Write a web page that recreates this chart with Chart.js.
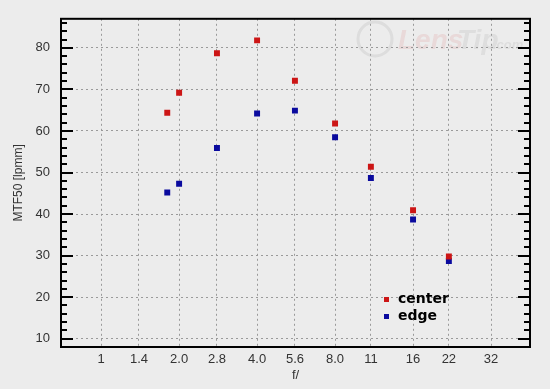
<!DOCTYPE html>
<html>
<head>
<meta charset="utf-8">
<script src="https://cdn.jsdelivr.net/npm/chart.js@4/dist/chart.umd.min.js"></script>
<style>
  html, body { margin: 0; padding: 0; background: #ececec; }
  #wrap { width: 550px; height: 389px; }
</style>
</head>
<body>
<div id="wrap"><canvas id="mtfChart" width="550" height="389"></canvas></div>
<script>
// f-numbers on the x axis
const fLabels = ['1', '1.4', '2.0', '2.8', '4.0', '5.6', '8.0', '11', '16', '22', '32'];
const yMajor = [10, 20, 30, 40, 50, 60, 70, 80];

// measured apertures
const apertures = [1.8, 2.0, 2.8, 4.0, 5.6, 8.0, 11, 16, 22];
const centerValues = [64.4, 69.2, 78.7, 81.8, 72.1, 61.8, 51.4, 40.9, 29.8];
const edgeValues = [45.2, 47.3, 55.9, 64.2, 64.9, 58.5, 48.7, 38.7, 28.7];

const toPoints = (vals) => apertures.map((f, i) => ({ x: f, y: vals[i] }));

// frame, inner tick marks, legend and watermark
const framePlugin = {
    id: 'frame',
    beforeDraw(chart) {
        const { ctx } = chart;
        ctx.save();
        // faint LensTip watermark
        ctx.globalAlpha = 0.1;
        ctx.strokeStyle = '#555';
        ctx.lineWidth = 3;
        ctx.beginPath();
        ctx.arc(375, 39, 17, 0, Math.PI * 2);
        ctx.stroke();
        ctx.fillStyle = '#d03030';
        ctx.font = 'italic bold 28px "Liberation Sans", Arial, sans-serif';
        ctx.textBaseline = 'middle';
        ctx.fillText('Lens', 398, 41);
        ctx.fillStyle = '#666';
        ctx.fillText('Tip', 457, 41);
        ctx.font = 'italic bold 13px "Liberation Sans", Arial, sans-serif';
        ctx.fillText('.com', 493, 45);
        ctx.restore();
    },
    afterDraw(chart) {
        const { ctx, chartArea: a } = chart;
        const y = chart.scales.y;
        ctx.save();
        ctx.strokeStyle = '#000';
        ctx.lineWidth = 2;
        ctx.strokeRect(a.left, a.top, a.right - a.left, a.bottom - a.top);
        for (let v = 8; v <= y.max; v += 2) {
            const py = Math.round(y.getPixelForValue(v));
            if (py <= a.top + 1 || py >= a.bottom - 1) continue;
            const len = v % 10 === 0 ? 12 : 6;
            ctx.beginPath();
            ctx.moveTo(a.left, py);
            ctx.lineTo(a.left + len, py);
            ctx.moveTo(a.right, py);
            ctx.lineTo(a.right - len, py);
            ctx.stroke();
        }
        // legend inside the plot
        ctx.font = 'bold 14px "DejaVu Sans", sans-serif';
        ctx.textBaseline = 'middle';
        chart.data.datasets.forEach((ds, i) => {
            const ly = 299 + i * 17;
            ctx.fillStyle = ds.backgroundColor;
            ctx.fillRect(384, ly - 2, 5, 5);
            ctx.fillStyle = '#000';
            ctx.fillText(ds.label, 398, ly);
        });
        ctx.restore();
    }
};

const ctx = document.getElementById('mtfChart').getContext('2d');
const mtfChart = new Chart(ctx, {
    type: 'scatter',
    data: {
        datasets: [
            {
                label: 'center',
                data: toPoints(centerValues),
                backgroundColor: '#cc1515',
                borderColor: '#cc1515',
                borderWidth: 0,
                pointStyle: 'rect',
                pointRadius: 4.2
            },
            {
                label: 'edge',
                data: toPoints(edgeValues),
                backgroundColor: '#0a0a9e',
                borderColor: '#0a0a9e',
                borderWidth: 0,
                pointStyle: 'rect',
                pointRadius: 4.2
            }
        ]
    },
    options: {
        responsive: false,
        animation: false,
        layout: { padding: { top: 16, right: 20, left: 0, bottom: 0 } },
        plugins: {
            legend: { display: false },
            tooltip: { enabled: false }
        },
        scales: {
            x: {
                type: 'logarithmic',
                min: 0.7071,
                max: 45.25,
                afterBuildTicks: (scale) => {
                    scale.ticks = fLabels.map(l => ({ value: parseFloat(l) }));
                },
                afterFit: (scale) => { scale.height = 42; },
                ticks: {
                    autoSkip: false,
                    maxRotation: 0,
                    padding: 5,
                    color: '#333',
                    font: { family: '"Liberation Sans", Arial, sans-serif', size: 13 },
                    callback: (v, i) => fLabels[i]
                },
                grid: { color: '#9a9a9a', lineWidth: 1, drawTicks: false },
                border: { display: false, dash: [2, 3] },
                title: {
                    display: true,
                    text: 'f/',
                    color: '#333',
                    font: { family: '"Liberation Sans", Arial, sans-serif', size: 13 },
                    padding: { top: 0, bottom: 6 }
                }
            },
            y: {
                min: 8,
                max: 87,
                afterBuildTicks: (scale) => {
                    scale.ticks = yMajor.map(v => ({ value: v }));
                },
                afterFit: (scale) => { scale.width = 61; },
                ticks: {
                    padding: 11,
                    color: '#333',
                    font: { family: '"Liberation Sans", Arial, sans-serif', size: 13 }
                },
                grid: { color: '#9a9a9a', lineWidth: 1, drawTicks: false },
                border: { display: false, dash: [2, 3] },
                title: {
                    display: true,
                    text: 'MTF50 [lpmm]',
                    color: '#333',
                    font: { family: '"Liberation Sans", Arial, sans-serif', size: 12 },
                    padding: { top: 11, bottom: 0 }
                }
            }
        }
    },
    plugins: [framePlugin]
});
</script>
</body>
</html>
